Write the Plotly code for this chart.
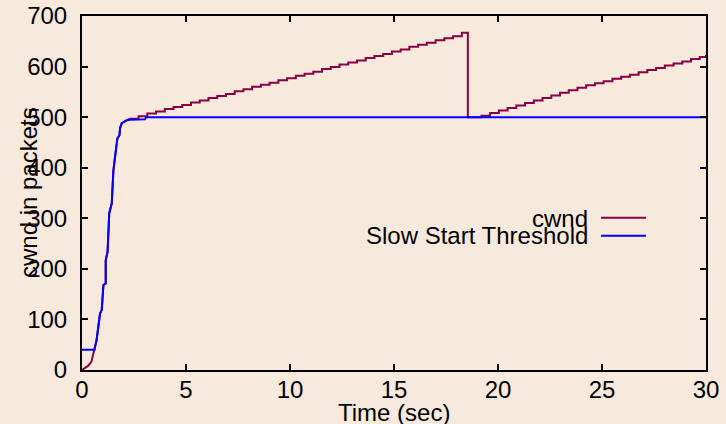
import plotly.graph_objects as go

# ---- data ----
# Slow start threshold (packets) vs time (sec)
ss_t = [0.00, 0.60, 0.63, 0.70, 0.87, 0.95, 1.03, 1.14, 1.14, 1.23, 1.31, 1.43,
        1.51, 1.63, 1.70, 1.80, 1.83, 1.91, 2.00, 2.15, 2.31, 3.03, 3.08, 30.00]
ss_v = [40, 40, 46, 59, 112, 119, 168, 171, 217, 234, 310, 329,
        395, 435, 458, 464, 478, 488, 490, 494, 495, 496, 500, 500]

# Congestion window (packets) vs time (sec): slow-start part (smooth)
cwnd_ss_t = [0.00, 0.13, 0.29, 0.45, 0.53, 0.60, 0.63, 0.70, 0.87, 0.95, 1.03, 1.14,
             1.14, 1.23, 1.31, 1.43, 1.51, 1.63, 1.70, 1.80, 1.83, 1.91, 2.00, 2.15,
             2.30]
cwnd_ss_v = [0, 3, 8, 16, 30, 40, 46, 59, 112, 119, 168, 171,
             217, 234, 310, 329, 395, 435, 458, 464, 478, 488, 490, 494,
             497]

# Congestion window: congestion-avoidance part (stepwise)
cwnd_ca_t = [2.30, 2.72, 3.14, 3.56, 3.98, 4.40, 4.82, 5.24, 5.66, 6.08, 6.50,
             6.92, 7.34, 7.76, 8.18, 8.60, 9.02, 9.44, 9.86, 10.28, 10.70, 11.12,
             11.54, 11.96, 12.38, 12.80, 13.22, 13.64, 14.06, 14.48, 14.90, 15.32,
             15.74, 16.16, 16.58, 17.00, 17.42, 17.84, 18.26, 18.55,
             19.20, 19.62, 20.04, 20.46, 20.88, 21.30, 21.72, 22.14, 22.56, 22.98,
             23.40, 23.82, 24.24, 24.66, 25.08, 25.50, 25.92, 26.34, 26.76, 27.18,
             27.60, 28.02, 28.44, 28.86, 29.28, 29.70, 30.00]
cwnd_ca_v = [497, 502, 507, 511, 516, 520, 524, 529, 533, 538, 542,
             546, 551, 555, 560, 564, 568, 573, 577, 582, 586, 590,
             595, 599, 604, 608, 612, 617, 621, 625, 630, 634,
             639, 643, 647, 652, 656, 660, 667, 500,
             503, 508, 513, 518, 523, 528, 533, 538, 543, 548,
             553, 558, 563, 567, 571, 576, 580, 584, 589, 593,
             597, 602, 606, 610, 615, 619, 623]

x_ticks = [0, 5, 10, 15, 20, 25, 30]
y_ticks = [0, 100, 200, 300, 400, 500, 600, 700]

series_names = ["cwnd", "Slow Start Threshold"]

BG = "#F7EADC"
CWND_COLOR = "#870042"
SS_COLOR = "#0000FF"
FONT = "Liberation Sans, Arial, Helvetica, sans-serif"

fig = go.Figure()
fig.add_trace(go.Scatter(x=cwnd_ss_t, y=cwnd_ss_v, mode="lines", name=series_names[0],
                         line=dict(color=CWND_COLOR, width=2, shape="linear")))
fig.add_trace(go.Scatter(x=cwnd_ca_t, y=cwnd_ca_v, mode="lines", name=series_names[0],
                         line=dict(color=CWND_COLOR, width=2, shape="hv")))
fig.add_trace(go.Scatter(x=ss_t, y=ss_v, mode="lines", name=series_names[1],
                         line=dict(color=SS_COLOR, width=2, shape="linear")))

axis_common = dict(
    showgrid=False, zeroline=False, showline=True, linecolor="black", linewidth=2,
    mirror="ticks", ticks="inside", ticklen=6, tickwidth=1.5, tickcolor="black",
    tickfont=dict(family=FONT, size=24, color="black"), automargin=False,
)
fig.update_xaxes(range=[0, 30], tickvals=x_ticks, ticktext=[str(v) for v in x_ticks],
                 ticklabelstandoff=-3, **axis_common)
fig.update_yaxes(range=[0, 700], tickvals=y_ticks, ticktext=[str(v) for v in y_ticks],
                 ticklabelstandoff=8, **axis_common)

annotations = [
    dict(text="Time (sec)", xref="paper", yref="paper", x=0.5, y=-0.121,
         xanchor="center", yanchor="middle", showarrow=False,
         font=dict(family=FONT, size=24, color="black")),
    dict(text="cwnd in packets", xref="paper", yref="paper", x=-0.0865, y=0.5,
         xanchor="center", yanchor="middle", textangle=-90, showarrow=False,
         font=dict(family=FONT, size=24, color="black")),
    dict(text=series_names[0], xref="paper", yref="paper", x=0.8141, y=0.428,
         xanchor="right", yanchor="middle", showarrow=False,
         font=dict(family=FONT, size=24, color="black")),
    dict(text=series_names[1], xref="paper", yref="paper", x=0.8141, y=0.3797,
         xanchor="right", yanchor="middle", showarrow=False,
         font=dict(family=FONT, size=24, color="black")),
]
shapes = [
    dict(type="line", xref="paper", yref="paper", x0=0.8317, x1=0.9038,
         y0=0.4302, y1=0.4302, line=dict(color=CWND_COLOR, width=2)),
    dict(type="line", xref="paper", yref="paper", x0=0.8317, x1=0.9038,
         y0=0.3794, y1=0.3794, line=dict(color=SS_COLOR, width=2)),
]

fig.update_layout(
    width=726, height=424,
    margin=dict(l=82, r=20, t=16, b=54, pad=0, autoexpand=False),
    paper_bgcolor=BG, plot_bgcolor=BG,
    showlegend=False,
    annotations=annotations, shapes=shapes,
    font=dict(family=FONT, size=24, color="black"),
)

fig.write_html("out.html")
